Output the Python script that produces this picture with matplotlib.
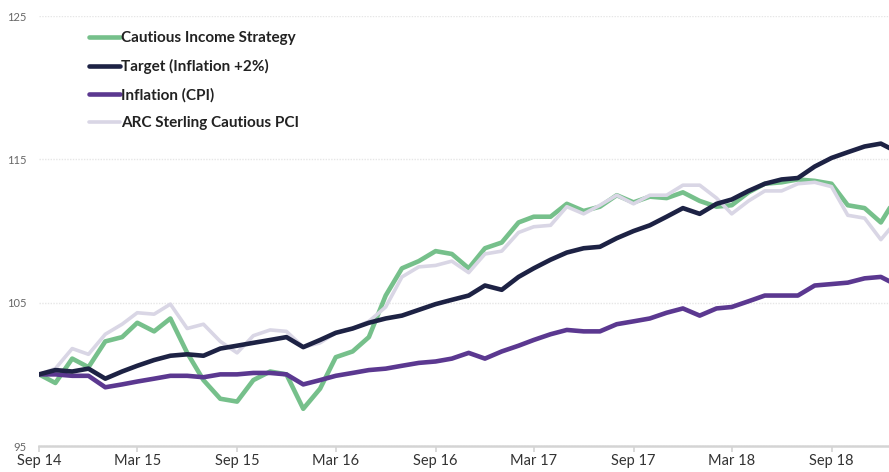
import numpy as np
import pandas as pd
import matplotlib
matplotlib.use('Agg')
from matplotlib import pyplot as plt
import matplotlib.dates as mdates

# monthly index values, Sep 2014 = 100
dates = pd.date_range('2014-09-01', periods=53, freq='MS')

cautious = [100.0, 99.4, 101.1, 100.5, 102.3, 102.6, 103.6, 103.0, 103.9, 101.5,
            99.6, 98.3, 98.1, 99.6, 100.2, 100.0, 97.6, 99.0, 101.2, 101.6,
            102.6, 105.5, 107.4, 107.9, 108.6, 108.4, 107.4, 108.8, 109.2, 110.6,
            111.0, 111.0, 111.9, 111.4, 111.7, 112.5, 112.0, 112.4, 112.3, 112.7,
            112.1, 111.7, 111.8, 112.7, 113.3, 113.4, 113.6, 113.5, 113.3, 111.8,
            111.6, 110.6, 112.5]
target = [100.0, 100.3, 100.2, 100.4, 99.7, 100.2, 100.6, 101.0, 101.3, 101.4,
          101.3, 101.8, 102.0, 102.2, 102.4, 102.6, 101.9, 102.4, 102.9, 103.2,
          103.6, 103.9, 104.1, 104.5, 104.9, 105.2, 105.5, 106.2, 105.9, 106.8,
          107.4, 108.0, 108.5, 108.8, 108.9, 109.5, 110.0, 110.4, 111.0, 111.6,
          111.2, 111.9, 112.2, 112.8, 113.3, 113.6, 113.7, 114.5, 115.1, 115.5,
          115.9, 116.1, 115.5]
cpi = [100.0, 100.0, 99.9, 99.9, 99.1, 99.3, 99.5, 99.7, 99.9, 99.9,
       99.8, 100.0, 100.0, 100.1, 100.1, 100.0, 99.3, 99.6, 99.9, 100.1,
       100.3, 100.4, 100.6, 100.8, 100.9, 101.1, 101.5, 101.1, 101.6, 102.0,
       102.4, 102.8, 103.1, 103.0, 103.0, 103.5, 103.7, 103.9, 104.3, 104.6,
       104.1, 104.6, 104.7, 105.1, 105.5, 105.5, 105.5, 106.2, 106.3, 106.4,
       106.7, 106.8, 106.2]
arc = [100.0, 100.4, 101.8, 101.4, 102.8, 103.5, 104.3, 104.2, 104.9, 103.2,
       103.5, 102.3, 101.5, 102.7, 103.1, 103.0, 101.9, 102.2, 102.9, 103.2,
       103.7, 104.7, 106.8, 107.5, 107.6, 107.9, 107.1, 108.4, 108.6, 109.9,
       110.3, 110.4, 111.7, 111.2, 111.8, 112.5, 111.9, 112.5, 112.5, 113.2,
       113.2, 112.3, 111.2, 112.1, 112.8, 112.8, 113.3, 113.4, 113.1, 111.1,
       110.9, 109.4, 110.8]

tick_dates = pd.date_range('2014-09-01', periods=9, freq='6MS')
tick_labels = ['Sep 14', 'Mar 15', 'Sep 15', 'Mar 16', 'Sep 16',
               'Mar 17', 'Sep 17', 'Mar 18', 'Sep 18']
yticks = [95, 105, 115, 125]

plt.rcParams['font.family'] = ['Lato', 'DejaVu Sans']

fig = plt.figure(figsize=(8.89, 4.72), dpi=100)
ax = fig.add_axes([0.044, 0.055, 0.956, 0.911])

ax.plot(dates, arc, color='#d9d6e5', lw=2.6, label='ARC Sterling Cautious PCI', zorder=2,
        solid_joinstyle='round', solid_capstyle='round')
ax.plot(dates, cpi, color='#5b3890', lw=3.3, label='Inflation (CPI)', zorder=3,
        solid_joinstyle='round', solid_capstyle='round')
ax.plot(dates, target, color='#1d2244', lw=3.3, label='Target (Inflation +2%)', zorder=4,
        solid_joinstyle='round', solid_capstyle='round')
ax.plot(dates, cautious, color='#76c08b', lw=3.3, label='Cautious Income Strategy', zorder=1,
        solid_joinstyle='round', solid_capstyle='round')

ax.set_ylim(95, 125)
ax.set_xlim(pd.Timestamp('2014-09-01'), pd.Timestamp('2018-12-16'))
ax.set_yticks(yticks)
ax.set_yticklabels([str(v) for v in yticks])
ax.set_xticks(tick_dates)
ax.set_xticklabels(tick_labels)

for s in ['top', 'right', 'left']:
    ax.spines[s].set_visible(False)
ax.spines['bottom'].set_color('#d4d4d4')
ax.spines['bottom'].set_linewidth(1.8)
ax.spines['bottom'].set_zorder(0)

ax.tick_params(axis='y', length=0, pad=9, labelsize=8, labelcolor='#666666')
ax.tick_params(axis='x', length=4, width=1.2, color='#d4d4d4', pad=2,
               labelsize=10.5, labelcolor='#333333')
ax.yaxis.grid(True, color='#e6e6e6', linestyle=(0, (1, 1)), lw=1.0)
ax.set_axisbelow(True)

handles, labels = ax.get_legend_handles_labels()
order = [3, 2, 1, 0]
leg = ax.legend([handles[i] for i in order], [labels[i] for i in order],
                loc='upper left', bbox_to_anchor=(0.043, 0.997), frameon=False,
                handlelength=2.0, handletextpad=0.1, labelspacing=0.9,
                prop={'size': 11, 'weight': 'bold'})
for t in leg.get_texts():
    t.set_color('#222222')

fig.savefig('out.png', dpi=100)
